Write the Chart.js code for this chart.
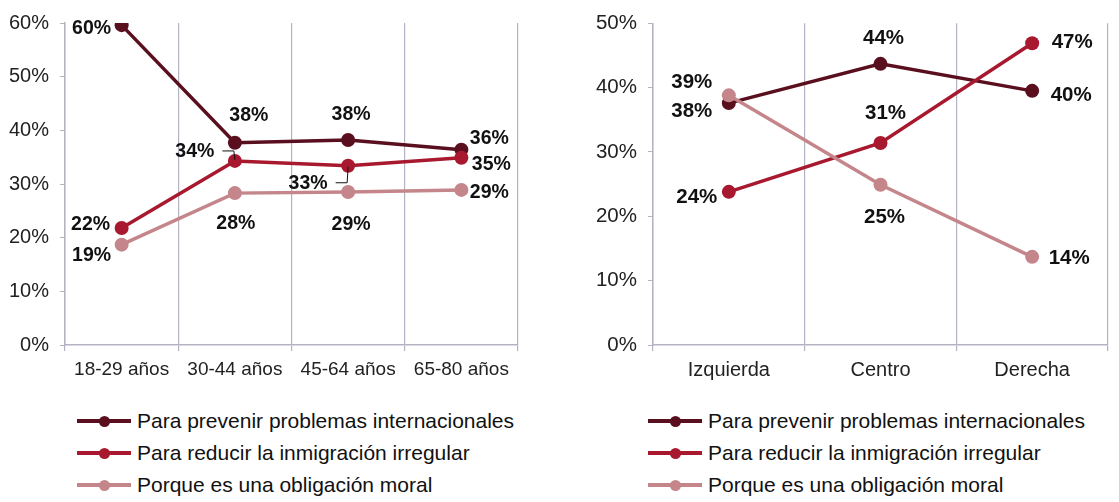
<!DOCTYPE html>
<html lang="es">
<head>
<meta charset="utf-8">
<title>Motivos por edad e ideología</title>
<script src="https://cdn.jsdelivr.net/npm/chart.js@4.4.1/dist/chart.umd.min.js"></script>
<style>
  body { margin: 0; background: #fff; font-family: "Liberation Sans", Arial, sans-serif; }
  #wrap { position: relative; width: 1119px; height: 502px; overflow: hidden; }
  .panel { position: absolute; top: 0; }
  .legend { position: absolute; top: 405px; margin: 0; padding: 0; list-style: none; }
  .legend li { display: flex; align-items: center; height: 32.2px; font-size: 21px; color: #111; white-space: nowrap; }
  .legend .mark { position: relative; width: 54px; height: 4px; margin-right: 6px; }
  .legend .mark i { position: absolute; left: 50%; top: 50%; width: 11px; height: 11px; margin: -5.5px 0 0 -5.5px; border-radius: 50%; }
</style>
</head>
<body>
<div id="wrap">
  <canvas id="age-chart" class="panel" width="580" height="390" style="left:0"></canvas>
  <canvas id="ideo-chart" class="panel" width="539" height="390" style="left:580px"></canvas>
  <ul id="age-legend" class="legend" style="left:77px"></ul>
  <ul id="ideo-legend" class="legend" style="left:648px"></ul>
</div>
<script>
// categories
const ageLabels = ["18-29 años", "30-44 años", "45-64 años", "65-80 años"];
const ideoLabels = ["Izquierda", "Centro", "Derecha"];
const seriesNames = [
  "Para prevenir problemas internacionales",
  "Para reducir la inmigración irregular",
  "Porque es una obligación moral",
];

// values (%) by age group
const ageProblemas = [59.6, 37.7, 38.2, 36.4];
const ageInmigracion = [21.8, 34.3, 33.4, 34.9];
const ageMoral = [18.7, 28.3, 28.5, 28.9];

// values (%) by ideology
const ideoProblemas = [37.6, 43.7, 39.5];
const ideoInmigracion = [23.8, 31.4, 46.9];
const ideoMoral = [38.8, 24.9, 13.7];

// y axis ticks
const ageTickMax = 60;
const ideoTickMax = 50;
const tickStep = 10;

const colors = ["#5a0f1f", "#a8192f", "#c4868a"];
const FONT = "'Liberation Sans', Arial, sans-serif";

// label placement (pixel offsets from each point), kept apart from the data
const ageLabelOffsets = [
  [[-30, 2], [14, -28], [3, -26], [28, -12]],
  [[-31, -4], [-40, -10], [-40, 17], [30, 6]],
  [[-30, 10], [1, 30], [3, 32], [28, 2]],
];
const ideoLabelOffsets = [
  [[-37, 7], [3, -26], [39, 3]],
  [[-32, 4], [5, -31], [40, -2]],
  [[-37, -14], [4, 32], [37, 0]],
];
const ageLeaders = [[1, 1], [1, 2]];

const valueLabels = {
  id: "valueLabels",
  afterDatasetsDraw(chart, args, opts) {
    const ctx = chart.ctx;
    ctx.save();
    ctx.font = `bold ${opts.size}px ${FONT}`;
    ctx.fillStyle = "#111";
    ctx.textAlign = "center";
    ctx.textBaseline = "middle";
    ctx.strokeStyle = "#111";
    ctx.lineWidth = 1;
    chart.data.datasets.forEach((ds, i) => {
      const meta = chart.getDatasetMeta(i);
      meta.data.forEach((pt, j) => {
        const [dx, dy] = opts.offsets[i][j];
        const text = Math.round(ds.data[j]) + "%";
        const x = pt.x + dx;
        const y = pt.y + dy;
        ctx.fillText(text, x, y + 1);
        const hasLeader = (opts.leaders || []).some(([a, b]) => a === i && b === j);
        if (hasLeader) {
          const startX = x + ctx.measureText(text).width / 2 + 8;
          const endY = pt.y + (dy < 0 ? -1 : 1);
          ctx.beginPath();
          ctx.moveTo(startX, y);
          ctx.lineTo(pt.x - 1, y);
          ctx.lineTo(pt.x, endY);
          ctx.stroke();
        }
      });
    });
    ctx.restore();
  },
};

function makeDatasets(series) {
  return series.map((data, i) => ({
    label: seriesNames[i],
    data,
    borderColor: colors[i],
    backgroundColor: colors[i],
    pointBackgroundColor: colors[i],
    pointBorderWidth: 0,
    pointRadius: 7,
    borderWidth: 3.5,
    order: 3 - i,
  }));
}

function makeChart(canvasId, labels, series, max, axisWidth, padRight, sizes, offsets, leaders) {
  const gridColor = "#b3b3c4";
  return new Chart(document.getElementById(canvasId), {
    type: "line",
    data: { labels, datasets: makeDatasets(series) },
    options: {
      responsive: false,
      animation: false,
      layout: { padding: { left: 0, right: padRight, top: 19, bottom: 0 } },
      plugins: {
        legend: { display: false },
        tooltip: { enabled: false },
        valueLabels: { offsets, leaders, size: sizes.value },
      },
      scales: {
        x: {
          offset: true,
          grid: {
            offset: true,
            color: (c) => (c.index === labels.length && canvasId === "ideo-chart" ? "rgba(0,0,0,0)" : gridColor),
            lineWidth: 1.2,
            tickLength: 6,
          },
          border: { color: gridColor, width: 1.5 },
          ticks: { color: "#222", font: { family: FONT, size: sizes.x }, padding: 7 },
          afterFit: (scale) => { scale.height = 45; },
        },
        y: {
          min: 0,
          max,
          grid: { drawOnChartArea: false, color: gridColor, tickLength: 5 },
          border: { color: gridColor, width: 1.5 },
          ticks: {
            stepSize: tickStep,
            color: "#222",
            font: { family: FONT, size: sizes.y },
            padding: 11,
            callback: (v) => v + "%",
          },
          afterFit: (scale) => { scale.width = axisWidth; },
        },
      },
    },
    plugins: [valueLabels],
  });
}

function renderLegend(listId, chart) {
  const list = document.getElementById(listId);
  list.innerHTML = "";
  chart.data.datasets.forEach((ds) => {
    const li = document.createElement("li");
    const mark = document.createElement("span");
    mark.className = "mark";
    mark.style.background = ds.borderColor;
    const dot = document.createElement("i");
    dot.style.background = ds.borderColor;
    mark.appendChild(dot);
    const txt = document.createElement("span");
    txt.textContent = ds.label;
    li.appendChild(mark);
    li.appendChild(txt);
    list.appendChild(li);
  });
}

const ageChart = makeChart(
  "age-chart", ageLabels, [ageProblemas, ageInmigracion, ageMoral],
  ageTickMax, 65, 62, { x: 19, y: 20, value: 19.5 }, ageLabelOffsets, ageLeaders
);
const ideoChart = makeChart(
  "ideo-chart", ideoLabels, [ideoProblemas, ideoInmigracion, ideoMoral],
  ideoTickMax, 73, 11, { x: 20, y: 20.5, value: 20.5 }, ideoLabelOffsets, []
);

renderLegend("age-legend", ageChart);
renderLegend("ideo-legend", ideoChart);
</script>
</body>
</html>
